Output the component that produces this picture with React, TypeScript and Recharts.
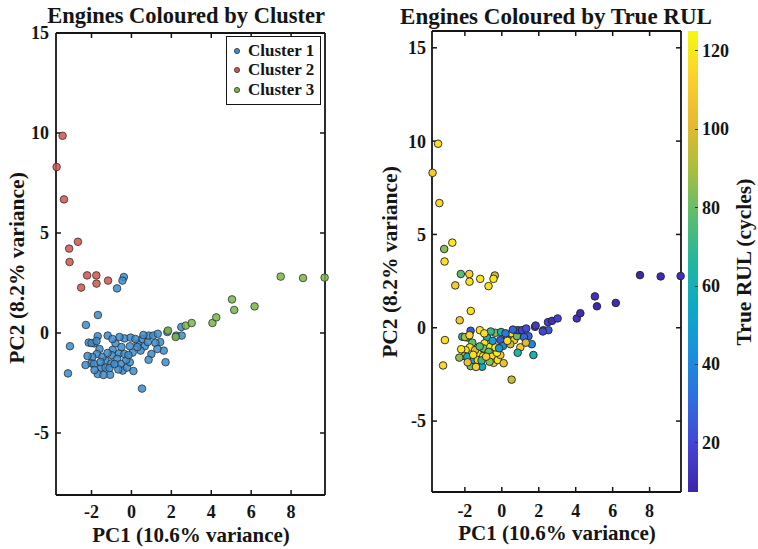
import React from "react";
import { ScatterChart, Scatter, XAxis, YAxis, Legend, ReferenceLine } from "recharts";

// PCA scores for the 100 test engines
const pc1 = [
  -0.38, -0.45, -0.72, -1.68, -2.28, -3.08, -3.18, 0.53, -1.69, -1.19,
  -2.14, -1.87, -1.6, -1.73, -1.96, -2.01, -1.87, -1.69, -1.51, -1.3,
  -1.3, -1.07, -1.01, -0.8, -0.94, -0.98, -0.62, -0.71, -0.53, -0.44,
  -0.66, -0.22, -0.08, -0.26, -0.35, -0.04, -0.08, 0.06, 0.31, 0.55,
  0.67, 0.46, 0.82, 1.0, 0.86, 0.87, 1.09, 1.32, 1.44, 1.62,
  1.8, 1.71, 2.25, 2.52, 2.5, -2.0, -1.45, -1.2, -1.55, -1.1,
  -0.85, -0.35, -0.15, 0.2, 0.3, -0.6, 1.2, 0.6, -1.4, -1.85,
  -0.5, 1.3, -2.3, -1.75, -0.95, 0.1, -2.2,
  -3.45, -3.75, -3.38, -2.68, -3.12, -3.1, -2.22, -1.76, -1.75, -2.52, -1.17,
  1.83, 2.22, 2.72, 3.02, 4.06, 4.25, 5.04, 5.15, 6.17, 7.48, 8.6, 9.68,
];
const pc2 = [
  2.8, 2.62, 2.23, 0.9, 0.4, -0.66, -2.02, -2.78, -0.16, -0.13,
  -0.48, -0.52, -0.8, -1.05, -1.2, -1.52, -1.55, -2.05, -1.73, -1.38,
  -1.73, -2.09, -1.52, -0.52, -0.84, -1.11, -1.02, -1.29, -1.55, -1.88,
  -1.82, -1.73, -1.46, -1.34, -0.27, -0.23, -0.66, -0.98, -0.52, -0.3,
  -0.66, -0.88, -0.45, -1.05, -1.34, -0.13, -0.13, -0.04, -0.45, -0.88,
  0.05, -1.46, -0.13, -0.13, 0.3, -0.5, -1.2, -1.0, -1.45, -1.75,
  -1.55, -1.05, -1.1, -0.3, -0.7, -0.2, -0.5, -0.1, -2.1, -1.85,
  -0.7, -0.8, -1.6, -0.4, -0.3, -1.9, -1.15,
  9.86, 8.3, 6.68, 4.56, 4.22, 3.55, 2.88, 2.88, 2.47, 2.27, 2.62,
  0.12, -0.2, 0.37, 0.5, 0.5, 0.78, 1.68, 1.15, 1.33, 2.82, 2.75, 2.77,
];
const clusterId = [
  ...Array(77).fill(1),
  2, 2, 2, 2, 2, 2, 2, 2, 2, 2, 2,
  3, 3, 3, 3, 3, 3, 3, 3, 3, 3, 3, 3,
];
const trueRul = [
  95, 120, 118, 118, 108, 118, 115, 95, 25, 118,
  65, 55, 80, 120, 118, 108, 55, 80, 52, 122,
  115, 55, 120, 58, 118, 82, 120, 78, 115, 112,
  85, 118, 110, 122, 82, 62, 25, 40, 30, 120,
  112, 95, 80, 108, 65, 20, 18, 22, 28, 40,
  15, 62, 20, 25, 18, 90, 100, 75, 118, 70,
  110, 120, 45, 35, 118, 70, 30, 28, 112, 105,
  50, 100, 85, 115, 118, 105, 120,
  118, 110, 115, 120, 85, 118, 78, 112, 118, 110, 120,
  15, 20, 12, 18, 14, 10, 12, 9, 11, 8, 10, 12,
];

const clusterNames = ["Cluster 1", "Cluster 2", "Cluster 3"];
const xTicks = [-2, 0, 2, 4, 6, 8];
const yTicks = [-5, 0, 5, 10, 15];
const rulTicks = [20, 40, 60, 80, 100, 120];
const rulRange = [7.5, 125];

const clusterColors = ["#3b8bcd", "#d0534c", "#7ab446"];
const parulaStops = [
  "#3e26a8", "#4543d6", "#2f6de0", "#1a90dd", "#0ca9c7", "#23b69f",
  "#5cbd6e", "#a9bf3c", "#e7b92f", "#fcd12c", "#f6f80f",
];

const FONT = '"Liberation Serif", "Times New Roman", serif';
const INK = "#151515";

const points = pc1.map((x, i) => ({
  x,
  y: pc2[i],
  cluster: clusterId[i],
  rul: trueRul[i],
}));

function hexToRgb(h: string) {
  const n = parseInt(h.slice(1), 16);
  return [(n >> 16) & 255, (n >> 8) & 255, n & 255];
}

function parula(v: number) {
  let t = (v - rulRange[0]) / (rulRange[1] - rulRange[0]);
  t = Math.max(0, Math.min(1, t));
  const pos = t * (parulaStops.length - 1);
  const i = Math.min(Math.floor(pos), parulaStops.length - 2);
  const f = pos - i;
  const a = hexToRgb(parulaStops[i]);
  const b = hexToRgb(parulaStops[i + 1]);
  const c = a.map((ch, k) => Math.round(ch + (b[k] - ch) * f));
  return `rgb(${c[0]},${c[1]},${c[2]})`;
}

const tickStyle = { fill: INK, fontSize: 18, fontWeight: "bold", fontFamily: FONT };
const axisLine = { stroke: INK, strokeWidth: 1.8 };

function Box({ x, y, children, rotate, size = 21 }: any) {
  return (
    <div
      style={{
        position: "absolute",
        left: x,
        top: y,
        transform: `translate(-50%, -50%)${rotate ? " rotate(-90deg)" : ""}`,
        whiteSpace: "nowrap",
        fontFamily: FONT,
        fontWeight: "bold",
        fontSize: size,
        lineHeight: 1,
        color: INK,
      }}
    >
      {children}
    </div>
  );
}

function axes(cfg: any) {
  const [x0, x1] = cfg.xDomain;
  const [y0, y1] = cfg.yDomain;
  const inward = (seg: any, key: string) => (
    <ReferenceLine
      key={key}
      xAxisId="b"
      yAxisId="l"
      segment={seg}
      stroke={INK}
      strokeWidth={1.5}
      ifOverflow="visible"
    />
  );
  return [
    <XAxis
      key="xb"
      xAxisId="b"
      type="number"
      dataKey="x"
      domain={cfg.xDomain}
      ticks={xTicks}
      height={cfg.bottom}
      tick={tickStyle}
      tickSize={-5}
      tickMargin={cfg.xMargin}
      axisLine={axisLine}
      tickLine={false}
      interval={0}
    />,
    <XAxis
      key="xt"
      xAxisId="t"
      orientation="top"
      type="number"
      domain={cfg.xDomain}
      ticks={xTicks}
      height={cfg.top}
      tick={false}
      axisLine={axisLine}
      tickLine={false}
    />,
    <YAxis
      key="yl"
      yAxisId="l"
      type="number"
      dataKey="y"
      domain={cfg.yDomain}
      ticks={yTicks}
      width={cfg.left}
      tick={tickStyle}
      tickSize={-5}
      tickMargin={cfg.yMargin}
      axisLine={axisLine}
      tickLine={false}
      interval={0}
    />,
    <YAxis
      key="yr"
      yAxisId="r"
      orientation="right"
      type="number"
      domain={cfg.yDomain}
      ticks={yTicks}
      width={cfg.right}
      tick={false}
      axisLine={axisLine}
      tickLine={false}
    />,
    // inward tick marks on all four sides
    ...xTicks.map((t) => inward([{ x: t, y: y0 }, { x: t, y: y0 + cfg.yTickLen }], `bt${t}`)),
    ...xTicks.map((t) => inward([{ x: t, y: y1 }, { x: t, y: y1 - cfg.yTickLen }], `tt${t}`)),
    ...yTicks
      .filter((t) => t < y1 - 0.1)
      .map((t) => inward([{ x: x0, y: t }, { x: x0 + cfg.xTickLen, y: t }], `lt${t}`)),
    ...yTicks
      .filter((t) => t < y1 - 0.1)
      .map((t) => inward([{ x: x1, y: t }, { x: x1 - cfg.xTickLen, y: t }], `rt${t}`)),
  ];
}

function ClusterLegend() {
  return (
    <div
      style={{
        border: `1.5px solid ${INK}`,
        background: "#fff",
        padding: "4px 6px 4px 5px",
        fontFamily: FONT,
        fontWeight: "bold",
        fontSize: 17,
        color: INK,
      }}
    >
      {clusterNames.map((name, k) => (
        <div key={name} style={{ display: "flex", alignItems: "center", height: 19.5 }}>
          <svg width={10} height={10} style={{ marginRight: 6 }}>
            <circle cx={5} cy={5} r={2.6} fill={clusterColors[k]} stroke="#333" strokeWidth={0.8} />
          </svg>
          {name}
        </div>
      ))}
    </div>
  );
}

export default function App() {
  const leftCfg = {
    xDomain: [-3.78, 9.7],
    yDomain: [-8.1, 15],
    left: 56,
    right: 15,
    top: 33,
    bottom: 54,
    xMargin: 15,
    yMargin: 12,
    xTickLen: 0.25,
    yTickLen: 0.25,
  };
  const rightCfg = {
    xDomain: [-3.78, 9.7],
    yDomain: [-8.8, 15.9],
    left: 52,
    right: 9,
    top: 31,
    bottom: 57,
    xMargin: 17,
    yMargin: 11,
    xTickLen: 0.27,
    yTickLen: 0.27,
  };
  const cbTop = 31;
  const cbBottom = 492;
  const cbY = (v: number) =>
    cbBottom - ((v - rulRange[0]) / (rulRange[1] - rulRange[0])) * (cbBottom - cbTop);

  return (
    <div style={{ position: "absolute", left: 0, top: 0, width: 758, height: 549, background: "#fff" }}>
      <div style={{ position: "absolute", left: 0, top: 0 }}>
        <ScatterChart width={340} height={549} margin={{ top: 0, right: 0, bottom: 0, left: 0 }}>
          {axes(leftCfg)}
          {[1, 2, 3].map((c) => (
            <Scatter
              key={c}
              name={clusterNames[c - 1]}
              data={points.filter((p) => p.cluster === c)}
              xAxisId="b"
              yAxisId="l"
              fill={clusterColors[c - 1]}
              isAnimationActive={false}
              shape={(p: any) => (
                <circle
                  cx={p.cx}
                  cy={p.cy}
                  r={3.8}
                  fill={clusterColors[c - 1]}
                  fillOpacity={0.85}
                  stroke="#2b2b2b"
                  strokeOpacity={0.85}
                  strokeWidth={0.9}
                />
              )}
            />
          ))}
          <Legend
            layout="vertical"
            align="center"
            verticalAlign="middle"
            wrapperStyle={{ left: 226, top: 36, width: "auto", height: "auto" }}
            content={() => <ClusterLegend />}
          />
        </ScatterChart>
      </div>

      <div style={{ position: "absolute", left: 380, top: 0 }}>
        <ScatterChart width={310} height={549} margin={{ top: 0, right: 0, bottom: 0, left: 0 }}>
          {axes(rightCfg)}
          <Scatter
            data={points}
            xAxisId="b"
            yAxisId="l"
            isAnimationActive={false}
            shape={(p: any) => (
              <circle
                cx={p.cx}
                cy={p.cy}
                r={3.8}
                fill={parula(p.payload.rul)}
                stroke="#222"
                strokeWidth={0.9}
              />
            )}
          />
        </ScatterChart>
      </div>

      {/* colorbar */}
      <div
        style={{
          position: "absolute",
          left: 688,
          top: cbTop,
          width: 10,
          height: cbBottom - cbTop,
          background: `linear-gradient(to top, ${parulaStops.join(", ")})`,
        }}
      />
      {rulTicks.map((v) => (
        <React.Fragment key={v}>
          <div
            style={{
              position: "absolute",
              left: 695,
              top: cbY(v) - 0.5,
              width: 3,
              height: 1,
              background: "#333",
            }}
          />
          <div
            style={{
              position: "absolute",
              left: 702,
              top: cbY(v) - 9,
              fontFamily: FONT,
              fontWeight: "bold",
              fontSize: 18,
              lineHeight: "18px",
              color: INK,
            }}
          >
            {v}
          </div>
        </React.Fragment>
      ))}

      <Box x={186} y={16} size={22.5}>Engines Coloured by Cluster</Box>
      <Box x={556} y={16} size={23}>Engines Coloured by True RUL</Box>
      <Box x={191} y={535}>PC1 (10.6% variance)</Box>
      <Box x={557} y={533}>PC1 (10.6% variance)</Box>
      <Box x={18} y={268} rotate size={21.5}>PC2 (8.2% variance)</Box>
      <Box x={391} y={262} rotate size={21.5}>PC2 (8.2% variance)</Box>
      <Box x={745} y={262} rotate size={21.5}>True RUL (cycles)</Box>
    </div>
  );
}
